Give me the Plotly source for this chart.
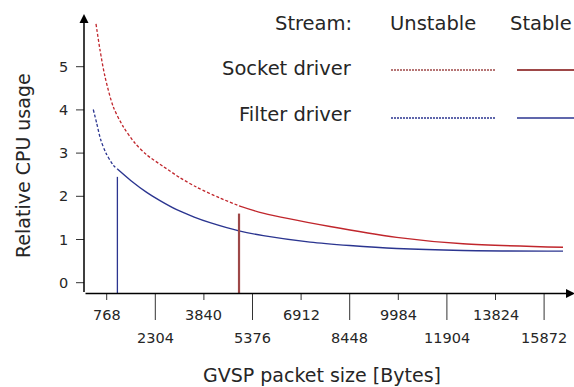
import numpy as np
import plotly.graph_objects as go

# Packet sizes shown on the x axis (evenly spaced slots)
tick_bytes = [768, 2304, 3840, 5376, 6912, 8448, 9984, 11904, 13824, 15872]
tick_labels = [str(b) for b in tick_bytes]
y_ticks = [0, 1, 2, 3, 4, 5]

# Socket driver: packet size [Bytes] vs relative CPU usage
socket_size = [430, 556, 714, 977, 1293, 1662, 2032, 2557, 3084, 3613, 4348, 4950,
               5708, 7826, 9933, 12540, 16669]
socket_cpu = [5.99, 5.39, 4.77, 4.07, 3.61, 3.23, 2.96, 2.69, 2.43, 2.21, 1.96, 1.78,
              1.61, 1.30, 1.05, 0.90, 0.82]
socket_stable_from = 4950
socket_marker_cpu = 1.60

# Filter driver: packet size [Bytes] vs relative CPU usage
filter_size = [344, 452, 579, 746, 977, 1106, 1536, 2032, 2453, 2980, 3533, 4034, 4949,
               5717, 7196, 8448, 9933, 12540, 16669]
filter_cpu = [4.01, 3.69, 3.31, 3.00, 2.72, 2.63, 2.36, 2.09, 1.90, 1.69, 1.52, 1.39, 1.20,
              1.09, 0.94, 0.86, 0.79, 0.745, 0.73]
filter_stable_from = 1106
filter_marker_cpu = 2.45

W, H = 574, 387
RED = "#c0262c"
RED_DARK = "#9e4848"
BLUE = "#2b3590"
TXT = "#262626"
FONT = "DejaVu Sans"


def slot(b):
    """Map packet size in bytes to the evenly spaced tick slot index."""
    b = np.asarray(b, dtype=float)
    idx = np.arange(len(tick_bytes), dtype=float)
    s = np.interp(b, tick_bytes, idx)
    lo = b < tick_bytes[0]
    s[lo] = (b[lo] - tick_bytes[0]) / (tick_bytes[1] - tick_bytes[0])
    hi = b > tick_bytes[-1]
    s[hi] = idx[-1] + (b[hi] - tick_bytes[-1]) / (tick_bytes[-1] - tick_bytes[-2])
    return s


# Pixel geometry of the plotting frame
PX_SLOT0, PX_PER_SLOT = 106.7, 48.6
PY_ZERO, PX_PER_UNIT = 282.7, 43.2
x_lo = -PX_SLOT0 / PX_PER_SLOT
x_hi = x_lo + W / PX_PER_SLOT
y_hi = PY_ZERO / PX_PER_UNIT
y_lo = y_hi - H / PX_PER_UNIT


def px_to_x(px):
    return (px - PX_SLOT0) / PX_PER_SLOT


def py_to_y(py):
    return (PY_ZERO - py) / PX_PER_UNIT


axis_x = px_to_x(84)
axis_y = py_to_y(293.5)

fig = go.Figure()


def add_driver(size, cpu, stable_from, color):
    size = np.asarray(size, float)
    cpu = np.asarray(cpu, float)
    xs = slot(size)
    unst = size <= stable_from
    st = size >= stable_from
    fig.add_trace(go.Scatter(x=xs[unst], y=cpu[unst], mode="lines",
                             line=dict(color=color, width=1.3, dash="3px,2px", shape="spline", smoothing=0.8),
                             hoverinfo="skip", showlegend=False))
    fig.add_trace(go.Scatter(x=xs[st], y=cpu[st], mode="lines",
                             line=dict(color=color, width=1.4, shape="spline", smoothing=0.8),
                             hoverinfo="skip", showlegend=False))


add_driver(socket_size, socket_cpu, socket_stable_from, RED)
add_driver(filter_size, filter_cpu, filter_stable_from, BLUE)

shapes = []
annotations = []

# Vertical markers where the stream becomes stable
fx = float(slot([filter_stable_from])[0])
sx = float(slot([socket_stable_from])[0])
shapes.append(dict(type="line", xref="x", yref="y", x0=fx, x1=fx, y0=axis_y, y1=filter_marker_cpu,
                   line=dict(color=BLUE, width=1.3)))
shapes.append(dict(type="line", xref="x", yref="y", x0=sx, x1=sx, y0=axis_y, y1=socket_marker_cpu,
                   line=dict(color=RED_DARK, width=2.2)))

# Axes with arrow heads
annotations.append(dict(x=axis_x, y=py_to_y(14), ax=axis_x, ay=axis_y, xref="x", yref="y",
                        axref="x", ayref="y", text="", showarrow=True, arrowhead=2,
                        arrowsize=1.2, arrowwidth=1.5, arrowcolor="black"))
annotations.append(dict(x=px_to_x(575), y=axis_y, ax=axis_x, ay=axis_y, xref="x", yref="y",
                        axref="x", ayref="y", text="", showarrow=True, arrowhead=2,
                        arrowsize=1.2, arrowwidth=1.5, arrowcolor="black"))

tick_font = dict(family=FONT, size=14.5, color=TXT)

# y ticks and labels
for v in y_ticks:
    shapes.append(dict(type="line", xref="x", yref="y", x0=px_to_x(76), x1=axis_x, y0=v, y1=v,
                       line=dict(color="#333", width=1)))
    annotations.append(dict(x=px_to_x(70), y=v, xref="x", yref="y", text=str(v), showarrow=False,
                            xanchor="right", yanchor="middle", font=tick_font))

# x ticks and two-row labels
for i, lab in enumerate(tick_labels):
    lower = i % 2 == 1
    y_end = py_to_y(320 if lower else 300)
    shapes.append(dict(type="line", xref="x", yref="y", x0=i, x1=i, y0=axis_y, y1=y_end,
                       line=dict(color="#333", width=1)))
    annotations.append(dict(x=i, y=py_to_y(338 if lower else 315), xref="x", yref="y", text=lab,
                            showarrow=False, xanchor="center", yanchor="middle", font=tick_font))

# Axis titles
title_font = dict(family=FONT, size=19, color=TXT)
annotations.append(dict(x=322 / W, y=1 - 375 / H, xref="paper", yref="paper",
                        text="GVSP packet size [Bytes]", showarrow=False, xanchor="center",
                        yanchor="middle", font=title_font))
annotations.append(dict(x=23 / W, y=1 - 166 / H, xref="paper", yref="paper",
                        text="Relative CPU usage", showarrow=False, textangle=-90, xanchor="center",
                        yanchor="middle", font=title_font))

# Legend table
lf = dict(family=FONT, size=19.5, color=TXT)
annotations.append(dict(x=354 / W, y=1 - 23 / H, xref="paper", yref="paper", text="Stream:",
                        showarrow=False, xanchor="right", yanchor="middle", font=lf))
annotations.append(dict(x=433 / W, y=1 - 23 / H, xref="paper", yref="paper", text="Unstable",
                        showarrow=False, xanchor="center", yanchor="middle", font=lf))
annotations.append(dict(x=1.0, y=1 - 23 / H, xref="paper", yref="paper", text="Stable",
                        showarrow=False, xanchor="right", yanchor="middle", font=lf))
annotations.append(dict(x=354 / W, y=1 - 68 / H, xref="paper", yref="paper", text="Socket driver",
                        showarrow=False, xanchor="right", yanchor="middle", font=lf))
annotations.append(dict(x=354 / W, y=1 - 115 / H, xref="paper", yref="paper", text="Filter driver",
                        showarrow=False, xanchor="right", yanchor="middle", font=lf))

for py, color, w_st in [(70, RED_DARK, 2.0), (118, BLUE, 1.4)]:
    shapes.append(dict(type="line", xref="paper", yref="paper", x0=391 / W, x1=495 / W,
                       y0=1 - py / H, y1=1 - py / H, line=dict(color=color, width=1.4, dash="2px,1px")))
    shapes.append(dict(type="line", xref="paper", yref="paper", x0=517 / W, x1=574 / W,
                       y0=1 - py / H, y1=1 - py / H, line=dict(color=color, width=w_st)))

fig.update_layout(
    width=W, height=H,
    margin=dict(l=0, r=0, t=0, b=0),
    paper_bgcolor="white", plot_bgcolor="white",
    xaxis=dict(range=[x_lo, x_hi], visible=False, fixedrange=True),
    yaxis=dict(range=[y_lo, y_hi], visible=False, fixedrange=True),
    shapes=shapes, annotations=annotations, showlegend=False,
)

fig.write_html("out.html")
